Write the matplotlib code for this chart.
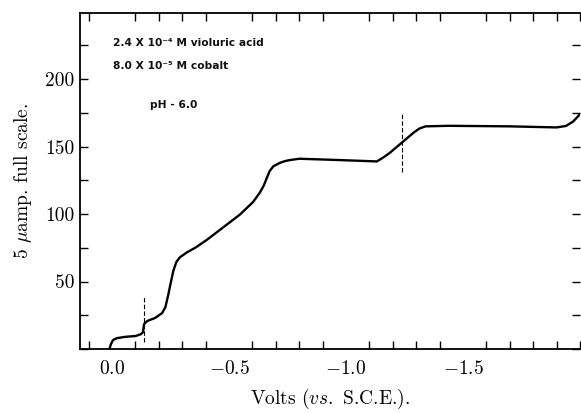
import matplotlib
matplotlib.use('Agg')
import matplotlib.pyplot as plt
from matplotlib.ticker import MultipleLocator

# polarogram (volts vs S.C.E., current in chart divisions)
volts = [0.01, 0.005, -0.004, -0.02, -0.056, -0.10, -0.124, -0.132, -0.137, -0.15,
         -0.184, -0.214, -0.228, -0.24, -0.252, -0.262, -0.275, -0.29, -0.32, -0.36,
         -0.406, -0.474, -0.547, -0.603, -0.632, -0.648, -0.662, -0.674, -0.69, -0.718,
         -0.74, -0.76, -0.80, -0.974, -1.132, -1.16, -1.188, -1.239, -1.29, -1.315,
         -1.34, -1.44, -1.70, -1.90, -1.94, -1.97, -2.0]
current = [0.7, 3.5, 6.6, 8, 9, 9.6, 11, 12.5, 18.5, 20.7,
           23, 26.6, 31, 40, 50, 58, 64.5, 68, 71.6, 75.5,
           81, 90, 99.7, 109, 116, 121, 127, 132, 135.5, 138,
           139.3, 140, 141, 140, 139, 142, 145.5, 153, 160.5, 163.5,
           165, 165.4, 165, 164.2, 165.3, 168.5, 174]

# half-wave potential markers (dashed)
marker_v = [-0.137, -1.24]
marker_lo = [5, 131]
marker_hi = [39, 175]

xticks = [0.0, -0.5, -1.0, -1.5]
xticklabels = ['$0.0$', '$-0.5$', '$-1.0$', '$-1.5$']
yticks = [50, 100, 150, 200]
yticklabels = ['50', '100', '150', '200']

plt.rcParams['font.family'] = 'cmr10'
plt.rcParams['mathtext.fontset'] = 'cm'

fig = plt.figure(figsize=(5.81, 4.13), dpi=100)
ax = fig.add_axes([0.1377, 0.155, 0.8606, 0.8135])

ax.plot(volts, current, color='black', lw=1.7, solid_joinstyle='round')
for v, lo, hi in zip(marker_v, marker_lo, marker_hi):
    ax.plot([v, v], [lo, hi], color='black', lw=0.8, ls=(0, (4, 2)))

ax.set_xlim(0.137, -2.0)
ax.set_ylim(0, 249)

ax.set_xticks(xticks)
ax.set_xticklabels(xticklabels, fontsize=14)
ax.set_yticks(yticks)
ax.set_yticklabels(yticklabels, fontsize=14)
ax.xaxis.set_minor_locator(MultipleLocator(0.1))
ax.yaxis.set_minor_locator(MultipleLocator(25))

ax.tick_params(which='both', direction='in', top=True, right=True, length=6, width=1)
ax.tick_params(axis='x', which='major', length=0, pad=8)
ax.tick_params(axis='y', which='major', length=6, pad=4)
ax.spines['right'].set_visible(False)
for s in ['left', 'bottom', 'top']:
    ax.spines[s].set_linewidth(1.3)

ax.set_xlabel(r'Volts ($vs.$ S.C.E.).', fontsize=14, labelpad=6)
ax.set_ylabel(r'5 $\mu$amp. full scale.', fontsize=14, labelpad=8)

note = dict(family='DejaVu Sans', fontsize=7.7, fontweight='bold', color='#111111',
            transform=ax.transAxes, va='center', ha='left')
ax.text(0.066, 0.91, '2.4 X 10\u207b\u2074 M violuric acid', **note)
ax.text(0.066, 0.841, '8.0 X 10\u207b\u2075 M cobalt', **note)
ax.text(0.14, 0.726, 'pH - 6.0', **note)

fig.savefig('out.png', dpi=100)
